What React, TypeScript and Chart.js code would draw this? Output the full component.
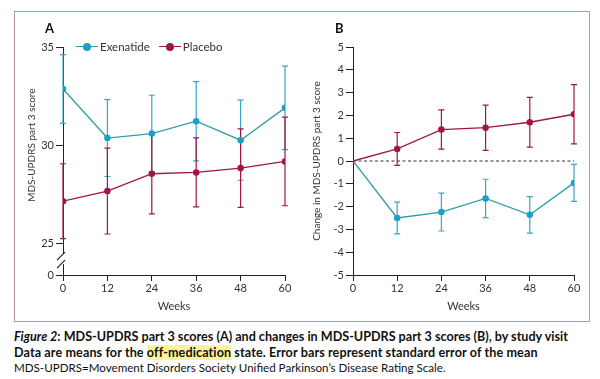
import React, { useEffect, useRef } from 'react';
import { Chart, registerables } from 'chart.js';

Chart.register(...registerables);

// ---------- data ----------
const weeks = [0, 12, 24, 36, 48, 60];
const xTickValues = [0, 12, 24, 36, 48, 60];

// Panel A: MDS-UPDRS part 3 score (mean, SE)
const exenatideScore = [32.86, 30.36, 30.59, 31.22, 30.25, 31.9];
const exenatideScoreSE = [1.75, 1.96, 1.95, 2.02, 2.04, 2.13];
const placeboScore = [27.14, 27.66, 28.54, 28.61, 28.83, 29.17];
const placeboScoreSE = [1.91, 2.19, 2.04, 1.76, 2.0, 2.26];
const yTicksA = [0, 25, 30, 35];
const yBreakFloorA = 23.38; // where the "0" of the broken axis sits

// Panel B: change in MDS-UPDRS part 3 score (mean, SE)
const exenatideChange = [0, -2.5, -2.24, -1.64, -2.36, -0.96];
const exenatideChangeSE = [0, 0.7, 0.83, 0.84, 0.8, 0.81];
const placeboChange = [0, 0.53, 1.38, 1.46, 1.7, 2.05];
const placeboChangeSE = [0, 0.72, 0.86, 0.99, 1.09, 1.3];
const yTicksB = [-5, -4, -3, -2, -1, 0, 1, 2, 3, 4, 5];

const seriesNames = ['Exenatide', 'Placebo'];

// ---------- styles ----------
const EXE_LINE = '#2f9ea4';
const EXE_POINT = '#1d9fcc';
const EXE_ERR = '#38a6c4';
const PLA = '#a01645';
const AXIS = '#222';
const TEXT = '#333';
const FONT = "'Lato', 'Open Sans', sans-serif";

const errorBarPlugin = {
  id: 'errorBars',
  beforeDatasetsDraw(chart: any) {
    const { ctx } = chart;
    const ys = chart.scales.y;
    chart.data.datasets.forEach((ds: any, i: number) => {
      if (!ds.errors) return;
      const meta = chart.getDatasetMeta(i);
      ctx.save();
      ctx.strokeStyle = ds.errorColor || ds.borderColor;
      ctx.lineWidth = 1.2;
      meta.data.forEach((pt: any, j: number) => {
        const e = ds.errors[j];
        if (!e) return;
        const v = ds.data[j].y;
        const yTop = ys.getPixelForValue(v + e);
        const yBot = ys.getPixelForValue(v - e);
        const x = pt.x;
        ctx.beginPath();
        ctx.moveTo(x, yTop);
        ctx.lineTo(x, yBot);
        ctx.moveTo(x - 3, yTop);
        ctx.lineTo(x + 3, yTop);
        ctx.moveTo(x - 3, yBot);
        ctx.lineTo(x + 3, yBot);
        ctx.stroke();
      });
      ctx.restore();
    });
  },
};

const breakPlugin = {
  id: 'axisBreak',
  afterDraw(chart: any) {
    if (!chart.options.plugins.axisBreak?.enabled) return;
    const { ctx } = chart;
    const ys = chart.scales.y;
    const x0 = chart.chartArea.left;
    const y25 = ys.getPixelForValue(25);
    const yFloor = ys.getPixelForValue(yBreakFloorA);
    const mid = (y25 + yFloor) / 2;
    ctx.save();
    ctx.fillStyle = '#fff';
    ctx.fillRect(x0 - 2, mid - 5, 4, 10);
    ctx.strokeStyle = AXIS;
    ctx.lineWidth = 1.2;
    ctx.beginPath();
    ctx.moveTo(x0 - 6, mid + 1);
    ctx.lineTo(x0 + 2, mid - 7);
    ctx.moveTo(x0 - 6, mid + 9);
    ctx.lineTo(x0 + 2, mid + 1);
    ctx.stroke();
    // y-axis title for panel A (centred on the 25-35 part of the axis)
    ctx.translate(32, (ys.getPixelForValue(35) + y25) / 2);
    ctx.rotate(-Math.PI / 2);
    ctx.fillStyle = TEXT;
    ctx.font = `10px ${FONT}`;
    ctx.textAlign = 'center';
    ctx.textBaseline = 'middle';
    ctx.fillText('MDS-UPDRS part 3 score', 0, 0);
    ctx.restore();
  },
};

function pts(ys: number[]) {
  return weeks.map((w, i) => ({ x: w, y: ys[i] }));
}

function makeScales(yMin: number, yMax: number, yTicks: number[], yWidth: number, yTitle: string | null, titlePad: number, floor?: number) {
  return {
    x: {
      type: 'linear',
      min: 0,
      max: 60,
      afterBuildTicks: (s: any) => {
        s.ticks = xTickValues.map((v) => ({ value: v }));
      },
      ticks: { color: TEXT, font: { family: FONT, size: 11 }, padding: 1, maxRotation: 0 },
      grid: { display: true, drawOnChartArea: false, drawTicks: true, tickLength: 6, color: AXIS },
      border: { display: true, color: AXIS, width: 1 },
      title: { display: true, text: 'Weeks', color: TEXT, font: { family: FONT, size: 11 }, padding: { top: 0, bottom: 7 } },
      afterFit: (s: any) => {
        s.height = 45;
      },
    },
    y: {
      type: 'linear',
      min: yMin,
      max: yMax,
      afterBuildTicks: (s: any) => {
        s.ticks = yTicks.map((v) => ({ value: floor !== undefined && v < yMin ? floor : v }));
      },
      ticks: {
        color: TEXT,
        font: { family: FONT, size: 11 },
        padding: 2,
        callback: (v: number) => (floor !== undefined && v < 25 ? '0' : String(v)),
      },
      grid: { display: true, drawOnChartArea: false, drawTicks: true, tickLength: 7, color: AXIS },
      border: { display: true, color: AXIS, width: 1 },
      title: yTitle
        ? { display: true, text: yTitle, color: TEXT, font: { family: FONT, size: 10 }, padding: { top: titlePad, bottom: 0 } }
        : { display: false },
      afterFit: (s: any) => {
        s.width = yWidth;
      },
    },
  };
}

function lineDataset(label: string, values: number[], se: number[], line: string, point: string, err: string, hideFirst: boolean) {
  return {
    label,
    data: pts(values),
    errors: se,
    errorColor: err,
    borderColor: line,
    backgroundColor: point,
    pointBackgroundColor: point,
    pointBorderColor: point,
    borderWidth: 1.3,
    pointRadius: (c: any) => (hideFirst && c.dataIndex === 0 ? 0 : 2.6),
    pointHoverRadius: 3,
    tension: 0,
  };
}

function PanelA() {
  const ref = useRef<HTMLCanvasElement>(null);
  useEffect(() => {
    const chart = new Chart(ref.current as HTMLCanvasElement, {
      type: 'line',
      data: {
        datasets: [
          lineDataset(seriesNames[0], exenatideScore, exenatideScoreSE, EXE_LINE, EXE_POINT, EXE_ERR, false),
          lineDataset(seriesNames[1], placeboScore, placeboScoreSE, PLA, PLA, PLA, false),
        ] as any,
      },
      options: {
        animation: false,
        responsive: false,
        layout: { padding: { top: 47, left: 0, right: 15, bottom: 0 } },
        plugins: { legend: { display: false }, tooltip: { enabled: false }, axisBreak: { enabled: true } } as any,
        scales: makeScales(yBreakFloorA, 35, yTicksA, 63, null, 0, yBreakFloorA) as any,
      },
      plugins: [errorBarPlugin, breakPlugin],
    });
    return () => chart.destroy();
  }, []);
  return <canvas ref={ref} width={300} height={320} style={{ position: 'absolute', left: 0, top: 0, width: 300, height: 320 }} />;
}

function PanelB() {
  const ref = useRef<HTMLCanvasElement>(null);
  useEffect(() => {
    const chart = new Chart(ref.current as HTMLCanvasElement, {
      type: 'line',
      data: {
        datasets: [
          {
            label: 'zero',
            data: [
              { x: 0, y: 0 },
              { x: 60, y: 0 },
            ],
            borderColor: '#333',
            borderWidth: 1,
            borderDash: [3, 2.5],
            pointRadius: 0,
            order: 5,
          },
          { ...lineDataset(seriesNames[1], placeboChange, placeboChangeSE, PLA, PLA, PLA, true), order: 1 },
          { ...lineDataset(seriesNames[0], exenatideChange, exenatideChangeSE, EXE_LINE, EXE_POINT, EXE_ERR, true), order: 2 },
        ] as any,
      },
      options: {
        animation: false,
        responsive: false,
        layout: { padding: { top: 47, left: 0, right: 26, bottom: 0 } },
        plugins: { legend: { display: false }, tooltip: { enabled: false } } as any,
        scales: makeScales(-5, 5, yTicksB, 53, 'Change in MDS-UPDRS part 3 score', 11) as any,
      },
      plugins: [errorBarPlugin],
    });
    return () => chart.destroy();
  }, []);
  return <canvas ref={ref} width={300} height={320} style={{ position: 'absolute', left: 300, top: 0, width: 300, height: 320 }} />;
}

function LegendItem({ color, lineColor, label }: { color: string; lineColor: string; label: string }) {
  return (
    <span style={{ display: 'inline-flex', alignItems: 'center', marginRight: 9 }}>
      <span style={{ position: 'relative', width: 22, height: 10, display: 'inline-block', marginRight: 2 }}>
        <span style={{ position: 'absolute', left: 0, right: 0, top: 4, height: 0, borderTop: `1.5px solid ${lineColor}` }} />
        <span style={{ position: 'absolute', left: 7, top: 1, width: 8, height: 8, borderRadius: '50%', background: color }} />
      </span>
      <span>{label}</span>
    </span>
  );
}

export default function App() {
  return (
    <div style={{ position: 'absolute', left: 0, top: 0, width: 600, height: 379, background: '#fff', overflow: 'hidden', fontFamily: FONT, color: TEXT }}>
      <div style={{ position: 'absolute', left: 14, top: 11, width: 574, height: 309, border: '1px solid #b994ab' }} />
      <PanelA />
      <PanelB />
      <div style={{ position: 'absolute', left: 45, top: 20, fontSize: 13, fontWeight: 700, color: '#111' }}>A</div>
      <div style={{ position: 'absolute', left: 335, top: 20, fontSize: 13, fontWeight: 700, color: '#111' }}>B</div>
      <div style={{ position: 'absolute', left: 76, top: 40, fontSize: 11.5, display: 'flex', alignItems: 'center', whiteSpace: 'nowrap' }}>
        <LegendItem color={EXE_POINT} lineColor={EXE_LINE} label={seriesNames[0]} />
        <LegendItem color={PLA} lineColor={PLA} label={seriesNames[1]} />
      </div>
      <div style={{ position: 'absolute', left: 14, top: 329, lineHeight: '15.6px', color: '#111', whiteSpace: 'nowrap' }}>
        <div style={{ fontWeight: 700, fontSize: 12.6 }}>
          <i>Figure 2</i>: MDS-UPDRS part 3 scores (A) and changes in MDS-UPDRS part 3 scores (B), by study visit
        </div>
        <div style={{ fontWeight: 700, fontSize: 12.6, letterSpacing: '0.1px' }}>
          Data are means for the <span style={{ background: '#fbf29a' }}>off-medication</span> state. Error bars represent standard error of the mean
        </div>
        <div style={{ fontWeight: 400, fontSize: 11.6 }}>MDS-UPDRS=Movement Disorders Society Unified Parkinson’s Disease Rating Scale.</div>
      </div>
    </div>
  );
}
